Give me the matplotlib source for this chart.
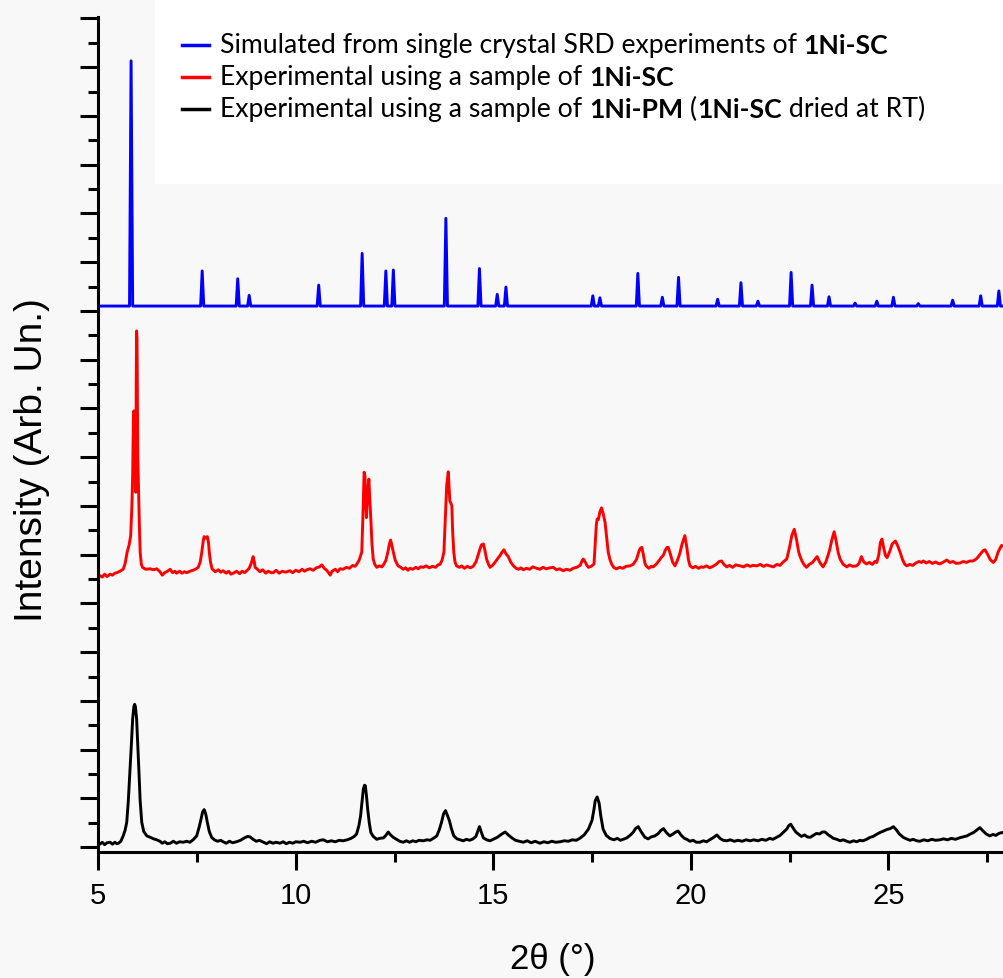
import matplotlib
matplotlib.use("Agg")
import matplotlib.pyplot as plt
from matplotlib.lines import Line2D
from matplotlib.patches import Rectangle
from matplotlib.ticker import MultipleLocator

# simulated pattern: baseline and sharp reflections (2theta, apex)
blue_base = 11.1
blue_pos = [5.83, 7.63, 8.53, 8.82, 10.58, 11.68, 12.28, 12.47, 13.80, 14.65,
            15.10, 15.32, 17.52, 17.70, 18.66, 19.28, 19.69, 20.68, 21.27, 21.70,
            22.54, 23.07, 23.50, 24.16, 24.71, 25.13, 25.76, 26.63, 27.34, 27.80]
blue_top = [16.13, 11.82, 11.66, 11.32, 11.53, 12.18, 11.82, 11.84, 12.90, 11.87,
            11.34, 11.49, 11.31, 11.27, 11.77, 11.28, 11.69, 11.24, 11.58, 11.20,
            11.79, 11.53, 11.29, 11.16, 11.20, 11.28, 11.15, 11.22, 11.31, 11.41]

# experimental 1Ni-SC, (2theta, intensity)
red_pts = [
    (5.00, 5.56), (5.04, 5.57), (5.10, 5.54), (5.16, 5.60), (5.22, 5.55), (5.30, 5.60),
    (5.36, 5.58), (5.42, 5.62), (5.47, 5.63), (5.55, 5.66), (5.63, 5.70), (5.68, 5.82),
    (5.73, 6.05), (5.78, 6.20), (5.82, 6.39), (5.85, 7.00), (5.87, 7.62), (5.89, 8.90),
    (5.90, 8.95), (5.92, 8.80), (5.94, 7.60), (5.95, 7.28), (5.96, 9.50), (5.97, 10.59),
    (5.98, 10.42), (5.99, 9.20), (6.00, 8.00), (6.02, 7.28), (6.04, 6.60), (6.06, 6.05),
    (6.09, 5.80), (6.12, 5.74), (6.20, 5.70), (6.31, 5.71), (6.40, 5.69), (6.48, 5.71),
    (6.56, 5.65), (6.62, 5.58), (6.68, 5.63), (6.75, 5.66), (6.82, 5.70), (6.88, 5.63),
    (6.94, 5.66), (6.98, 5.62), (7.06, 5.66), (7.12, 5.62), (7.18, 5.65), (7.24, 5.63),
    (7.32, 5.66), (7.40, 5.68), (7.48, 5.71), (7.53, 5.74), (7.58, 5.85), (7.62, 6.05),
    (7.66, 6.30), (7.68, 6.37), (7.72, 6.34), (7.76, 6.37), (7.79, 6.25), (7.81, 6.05),
    (7.84, 5.85), (7.88, 5.71), (7.96, 5.65), (8.04, 5.69), (8.10, 5.64), (8.16, 5.67),
    (8.24, 5.62), (8.30, 5.66), (8.36, 5.60), (8.42, 5.62), (8.50, 5.66), (8.58, 5.61),
    (8.64, 5.66), (8.70, 5.63), (8.76, 5.67), (8.82, 5.72), (8.88, 5.84), (8.92, 5.96),
    (8.95, 5.85), (8.97, 5.74), (9.03, 5.70), (9.09, 5.65), (9.16, 5.69), (9.24, 5.62),
    (9.30, 5.66), (9.38, 5.63), (9.43, 5.63), (9.50, 5.68), (9.58, 5.62), (9.66, 5.66),
    (9.74, 5.64), (9.85, 5.67), (9.92, 5.63), (10.00, 5.68), (10.08, 5.65), (10.16, 5.70),
    (10.22, 5.66), (10.28, 5.69), (10.36, 5.71), (10.44, 5.68), (10.52, 5.73), (10.60, 5.75),
    (10.66, 5.79), (10.72, 5.72), (10.78, 5.68), (10.84, 5.62), (10.87, 5.58), (10.92, 5.66),
    (11.00, 5.70), (11.06, 5.65), (11.12, 5.71), (11.20, 5.70), (11.28, 5.74), (11.36, 5.72),
    (11.44, 5.78), (11.50, 5.76), (11.54, 5.80), (11.60, 5.88), (11.67, 6.05), (11.70, 6.80),
    (11.73, 7.69), (11.75, 7.62), (11.77, 7.10), (11.79, 6.76), (11.82, 7.30), (11.85, 7.55),
    (11.87, 7.20), (11.90, 6.73), (11.93, 6.20), (11.96, 5.91), (12.00, 5.80), (12.05, 5.74),
    (12.12, 5.77), (12.18, 5.75), (12.22, 5.79), (12.28, 5.88), (12.33, 6.05), (12.37, 6.22),
    (12.40, 6.30), (12.43, 6.20), (12.47, 6.05), (12.52, 5.88), (12.59, 5.77), (12.66, 5.74),
    (12.72, 5.70), (12.78, 5.73), (12.84, 5.68), (12.89, 5.72), (12.96, 5.70), (13.04, 5.74),
    (13.10, 5.71), (13.16, 5.75), (13.23, 5.74), (13.30, 5.77), (13.38, 5.73), (13.46, 5.76),
    (13.54, 5.74), (13.60, 5.79), (13.65, 5.80), (13.70, 5.88), (13.75, 6.05), (13.79, 6.80),
    (13.82, 7.41), (13.86, 7.70), (13.88, 7.40), (13.90, 7.10), (13.93, 7.05), (13.95, 7.00),
    (13.97, 6.50), (14.00, 6.05), (14.03, 5.85), (14.07, 5.77), (14.14, 5.74), (14.20, 5.77),
    (14.27, 5.72), (14.34, 5.76), (14.42, 5.73), (14.49, 5.76), (14.56, 5.85), (14.62, 6.00),
    (14.66, 6.11), (14.70, 6.20), (14.75, 6.22), (14.79, 6.08), (14.83, 5.91), (14.88, 5.80),
    (14.92, 5.74), (14.98, 5.78), (15.06, 5.86), (15.12, 5.93), (15.17, 5.98), (15.22, 6.05),
    (15.27, 6.10), (15.32, 6.02), (15.38, 5.96), (15.44, 5.85), (15.51, 5.77), (15.58, 5.72),
    (15.64, 5.70), (15.70, 5.73), (15.76, 5.69), (15.84, 5.72), (15.92, 5.70), (16.00, 5.75),
    (16.10, 5.72), (16.18, 5.70), (16.26, 5.74), (16.34, 5.71), (16.44, 5.73), (16.52, 5.74),
    (16.60, 5.69), (16.68, 5.71), (16.77, 5.67), (16.85, 5.70), (16.94, 5.68), (17.02, 5.72),
    (17.11, 5.74), (17.20, 5.78), (17.25, 5.88), (17.28, 5.91), (17.32, 5.86), (17.37, 5.78),
    (17.41, 5.74), (17.48, 5.76), (17.55, 5.81), (17.58, 6.20), (17.61, 6.62), (17.63, 6.73),
    (17.66, 6.72), (17.70, 6.88), (17.74, 6.96), (17.78, 6.85), (17.83, 6.66), (17.87, 6.35),
    (17.91, 6.05), (17.95, 5.91), (18.00, 5.80), (18.06, 5.73), (18.12, 5.71), (18.20, 5.74),
    (18.28, 5.72), (18.36, 5.76), (18.46, 5.77), (18.54, 5.80), (18.60, 5.87), (18.63, 5.91),
    (18.68, 6.05), (18.72, 6.13), (18.76, 6.15), (18.80, 6.00), (18.84, 5.82), (18.87, 5.77),
    (18.94, 5.72), (19.00, 5.76), (19.05, 5.75), (19.12, 5.80), (19.20, 5.88), (19.26, 5.95),
    (19.30, 5.98), (19.36, 6.10), (19.40, 6.15), (19.43, 6.15), (19.48, 6.02), (19.54, 5.85),
    (19.60, 5.77), (19.66, 5.88), (19.70, 5.97), (19.73, 6.05), (19.78, 6.22), (19.85, 6.39),
    (19.90, 6.15), (19.94, 5.90), (19.98, 5.77), (20.05, 5.73), (20.12, 5.76), (20.20, 5.72),
    (20.26, 5.75), (20.32, 5.74), (20.40, 5.77), (20.48, 5.73), (20.56, 5.76), (20.64, 5.80),
    (20.72, 5.86), (20.78, 5.87), (20.84, 5.80), (20.91, 5.75), (20.98, 5.78), (21.06, 5.74),
    (21.14, 5.79), (21.25, 5.77), (21.34, 5.75), (21.42, 5.79), (21.50, 5.76), (21.58, 5.78),
    (21.67, 5.77), (21.76, 5.80), (21.84, 5.76), (21.92, 5.79), (22.00, 5.77), (22.09, 5.75),
    (22.18, 5.80), (22.26, 5.78), (22.34, 5.85), (22.43, 5.91), (22.50, 6.15), (22.56, 6.40),
    (22.62, 6.52), (22.68, 6.30), (22.73, 6.06), (22.76, 5.98), (22.82, 5.86), (22.88, 5.78),
    (22.93, 5.74), (23.00, 5.80), (23.08, 5.84), (23.14, 5.90), (23.20, 5.96), (23.26, 5.85),
    (23.30, 5.80), (23.35, 5.75), (23.42, 5.85), (23.48, 6.00), (23.52, 6.11), (23.57, 6.30),
    (23.63, 6.47), (23.68, 6.28), (23.73, 6.05), (23.78, 5.91), (23.86, 5.80), (23.95, 5.75),
    (24.02, 5.79), (24.10, 5.76), (24.20, 5.77), (24.26, 5.82), (24.32, 5.96), (24.38, 5.85),
    (24.45, 5.81), (24.52, 5.84), (24.60, 5.80), (24.66, 5.86), (24.71, 5.84), (24.76, 6.00),
    (24.80, 6.25), (24.84, 6.32), (24.88, 6.15), (24.93, 5.98), (24.97, 5.94), (25.03, 6.05),
    (25.10, 6.22), (25.18, 6.28), (25.24, 6.18), (25.30, 6.05), (25.36, 5.90), (25.42, 5.80),
    (25.47, 5.77), (25.54, 5.80), (25.62, 5.78), (25.70, 5.83), (25.78, 5.86), (25.84, 5.84),
    (25.89, 5.87), (25.96, 5.83), (26.04, 5.86), (26.12, 5.82), (26.20, 5.85), (26.26, 5.82),
    (26.31, 5.81), (26.40, 5.85), (26.48, 5.89), (26.56, 5.84), (26.64, 5.86), (26.72, 5.82),
    (26.82, 5.83), (26.90, 5.86), (26.98, 5.84), (27.06, 5.87), (27.15, 5.87), (27.24, 5.92),
    (27.32, 6.00), (27.40, 6.08), (27.45, 6.10), (27.52, 6.00), (27.58, 5.90), (27.66, 5.84),
    (27.72, 5.90), (27.78, 6.05), (27.84, 6.15), (27.87, 6.19), (27.95, 6.15),
]

# experimental 1Ni-PM
black_pts = [
    (5.00, 0.07), (5.04, 0.06), (5.10, 0.10), (5.16, 0.05), (5.22, 0.09), (5.30, 0.10),
    (5.36, 0.06), (5.42, 0.10), (5.47, 0.07), (5.51, 0.08), (5.57, 0.12), (5.63, 0.23),
    (5.68, 0.35), (5.72, 0.51), (5.76, 0.95), (5.80, 1.53), (5.84, 2.15), (5.87, 2.63),
    (5.90, 2.88), (5.92, 2.93), (5.94, 2.88), (5.97, 2.63), (6.00, 2.10), (6.03, 1.53),
    (6.06, 0.95), (6.10, 0.51), (6.15, 0.32), (6.23, 0.23), (6.32, 0.20), (6.40, 0.17),
    (6.48, 0.15), (6.56, 0.12), (6.62, 0.08), (6.68, 0.11), (6.75, 0.07), (6.82, 0.08),
    (6.90, 0.12), (6.98, 0.08), (7.06, 0.11), (7.15, 0.10), (7.24, 0.12), (7.32, 0.10),
    (7.40, 0.15), (7.49, 0.23), (7.55, 0.40), (7.60, 0.57), (7.64, 0.72), (7.68, 0.77),
    (7.72, 0.68), (7.76, 0.51), (7.81, 0.32), (7.87, 0.20), (7.94, 0.15), (8.02, 0.12),
    (8.10, 0.14), (8.16, 0.11), (8.24, 0.08), (8.32, 0.12), (8.40, 0.09), (8.50, 0.11),
    (8.60, 0.14), (8.70, 0.19), (8.78, 0.22), (8.84, 0.21), (8.92, 0.16), (9.00, 0.12),
    (9.08, 0.14), (9.18, 0.10), (9.26, 0.07), (9.34, 0.11), (9.42, 0.08), (9.50, 0.10),
    (9.60, 0.08), (9.68, 0.11), (9.76, 0.07), (9.84, 0.10), (9.92, 0.08), (10.00, 0.11),
    (10.11, 0.10), (10.20, 0.12), (10.30, 0.09), (10.40, 0.12), (10.50, 0.10), (10.61, 0.14),
    (10.70, 0.15), (10.80, 0.11), (10.90, 0.13), (11.00, 0.11), (11.10, 0.14), (11.20, 0.13),
    (11.30, 0.15), (11.40, 0.18), (11.48, 0.22), (11.54, 0.27), (11.60, 0.45), (11.64, 0.64),
    (11.68, 0.95), (11.71, 1.19), (11.74, 1.27), (11.76, 1.26), (11.79, 1.05), (11.82, 0.78),
    (11.86, 0.50), (11.90, 0.30), (11.96, 0.22), (12.05, 0.16), (12.12, 0.18), (12.22, 0.19),
    (12.28, 0.24), (12.34, 0.31), (12.40, 0.25), (12.47, 0.20), (12.55, 0.16), (12.63, 0.12),
    (12.72, 0.10), (12.80, 0.13), (12.88, 0.10), (12.96, 0.13), (13.04, 0.11), (13.12, 0.14),
    (13.23, 0.13), (13.32, 0.15), (13.40, 0.14), (13.50, 0.19), (13.57, 0.23), (13.63, 0.35),
    (13.69, 0.51), (13.74, 0.68), (13.79, 0.75), (13.84, 0.65), (13.89, 0.54), (13.94, 0.38),
    (14.00, 0.23), (14.08, 0.17), (14.16, 0.15), (14.24, 0.13), (14.32, 0.16), (14.40, 0.14),
    (14.49, 0.17), (14.56, 0.22), (14.61, 0.33), (14.65, 0.42), (14.70, 0.30), (14.75, 0.19),
    (14.83, 0.15), (14.92, 0.13), (15.00, 0.16), (15.10, 0.20), (15.20, 0.26), (15.30, 0.31),
    (15.38, 0.25), (15.47, 0.19), (15.56, 0.14), (15.66, 0.12), (15.76, 0.10), (15.86, 0.13),
    (15.96, 0.09), (16.06, 0.12), (16.18, 0.08), (16.28, 0.11), (16.38, 0.09), (16.48, 0.12),
    (16.58, 0.10), (16.69, 0.11), (16.80, 0.13), (16.90, 0.12), (17.00, 0.15), (17.10, 0.14),
    (17.19, 0.18), (17.30, 0.25), (17.41, 0.37), (17.50, 0.55), (17.55, 0.78), (17.58, 0.95),
    (17.63, 1.03), (17.68, 0.90), (17.72, 0.65), (17.78, 0.37), (17.86, 0.24), (17.95, 0.18),
    (18.05, 0.15), (18.14, 0.18), (18.22, 0.14), (18.29, 0.16), (18.38, 0.19), (18.46, 0.24),
    (18.54, 0.30), (18.60, 0.38), (18.67, 0.42), (18.74, 0.32), (18.84, 0.20), (18.92, 0.17),
    (19.00, 0.21), (19.09, 0.23), (19.18, 0.28), (19.24, 0.34), (19.31, 0.38), (19.38, 0.30),
    (19.47, 0.23), (19.55, 0.27), (19.62, 0.31), (19.68, 0.33), (19.76, 0.24), (19.84, 0.18),
    (19.90, 0.16), (19.98, 0.12), (20.06, 0.14), (20.14, 0.10), (20.23, 0.10), (20.32, 0.13),
    (20.40, 0.11), (20.50, 0.16), (20.58, 0.20), (20.66, 0.25), (20.74, 0.18), (20.82, 0.14),
    (20.91, 0.13), (21.00, 0.15), (21.10, 0.12), (21.20, 0.14), (21.30, 0.12), (21.40, 0.15),
    (21.50, 0.13), (21.60, 0.15), (21.70, 0.13), (21.80, 0.16), (21.90, 0.14), (22.00, 0.18),
    (22.08, 0.16), (22.17, 0.20), (22.26, 0.24), (22.34, 0.30), (22.43, 0.37), (22.48, 0.44),
    (22.53, 0.47), (22.60, 0.38), (22.66, 0.31), (22.72, 0.27), (22.80, 0.22), (22.88, 0.25),
    (22.95, 0.21), (23.02, 0.20), (23.10, 0.24), (23.18, 0.28), (23.26, 0.27), (23.33, 0.31),
    (23.40, 0.31), (23.47, 0.26), (23.54, 0.22), (23.61, 0.18), (23.70, 0.16), (23.78, 0.13),
    (23.86, 0.15), (23.95, 0.12), (24.03, 0.10), (24.12, 0.13), (24.20, 0.11), (24.28, 0.14),
    (24.36, 0.13), (24.45, 0.16), (24.54, 0.20), (24.62, 0.22), (24.70, 0.26), (24.79, 0.30),
    (24.88, 0.33), (24.96, 0.36), (25.05, 0.38), (25.13, 0.42), (25.20, 0.36), (25.28, 0.27),
    (25.38, 0.20), (25.46, 0.17), (25.55, 0.14), (25.63, 0.16), (25.72, 0.13), (25.80, 0.12),
    (25.90, 0.15), (26.00, 0.13), (26.10, 0.16), (26.20, 0.14), (26.31, 0.15), (26.40, 0.17),
    (26.50, 0.15), (26.60, 0.18), (26.70, 0.16), (26.80, 0.19), (26.90, 0.21), (26.99, 0.23),
    (27.08, 0.27), (27.16, 0.30), (27.24, 0.35), (27.32, 0.40), (27.40, 0.33), (27.48, 0.27),
    (27.57, 0.23), (27.65, 0.26), (27.72, 0.24), (27.80, 0.28), (27.88, 0.30), (27.95, 0.29),
]

legend_rows = [
    ("blue", [("Simulated from single crystal SRD experiments of ", "normal"), ("1Ni-SC", "bold")]),
    ("red", [("Experimental using a sample of ", "normal"), ("1Ni-SC", "bold")]),
    ("black", [("Experimental using a sample of ", "normal"), ("1Ni-PM", "bold"),
               (" (", "normal"), ("1Ni-SC", "bold"), (" dried at RT)", "normal")]),
]

W, H = 1004, 979
fig = plt.figure(figsize=(W / 100, H / 100), dpi=100, facecolor="#f8f8f8")
fig.add_artist(Rectangle((155 / W, 1 - 185 / H), 1, 185 / H, transform=fig.transFigure,
                         facecolor="white", edgecolor="none", zorder=-5))

ax = fig.add_axes([98.3 / W, 126 / H, (W - 98.3) / W, (853 - 18) / H])
ax.set_facecolor("none")

# blue stick-like pattern
bx, by = [5.0], [blue_base]
for p, h in zip(blue_pos, blue_top):
    bx += [p - 0.04, p, p + 0.04]
    by += [blue_base, h, blue_base]
bx.append(27.95)
by.append(blue_base)

rx, ry = zip(*red_pts)
kx, ky = zip(*black_pts)
ax.plot(bx, by, color="#0000ff", lw=2.1)
ax.plot(rx, ry, color="#ff0000", lw=2.1)
ax.plot(kx, ky, color="black", lw=2.1)

ax.set_xlim(5, 27.93)
ax.set_ylim(-0.1, 17.03)
for s in ["top", "right"]:
    ax.spines[s].set_visible(False)
for s in ["left", "bottom"]:
    ax.spines[s].set_linewidth(2.2)

ax.xaxis.set_major_locator(MultipleLocator(5))
ax.xaxis.set_minor_locator(MultipleLocator(2.5))
ax.yaxis.set_major_locator(MultipleLocator(1))
ax.yaxis.set_minor_locator(MultipleLocator(0.5))
ax.tick_params(which="major", direction="out", length=13, width=2.2)
ax.tick_params(which="minor", direction="out", length=7, width=2.2)
ax.tick_params(axis="y", labelleft=False)
ax.tick_params(axis="x", labelsize=21, pad=8)
for lab in ax.get_xticklabels():
    lab.set_fontfamily("Liberation Sans")

fig.text(553 / W, 1 - 960 / H, "2θ (°)", fontsize=25, family="Liberation Sans",
         ha="center", va="center")
fig.text(32 / W, 1 - 460 / H, "Intensity (Arb. Un.)", fontsize=28, family="Liberation Sans",
         rotation=90, ha="center", va="center")

# legend drawn by hand to allow bold fragments
row_y = [46, 78, 110]
for (col, pieces), yp in zip(legend_rows, row_y):
    fy = 1 - yp / H
    fig.add_artist(Line2D([182 / W, 209 / W], [fy, fy], transform=fig.transFigure,
                          color=col, lw=2.5))
    prev = fig.text(220 / W, fy, pieces[0][0], fontsize=19.2, family="Lato",
                    weight=pieces[0][1], va="center", ha="left")
    for txt, wt in pieces[1:]:
        prev = ax.annotate(txt, xy=(1, 0), xycoords=prev, va="bottom", ha="left",
                           fontsize=19.2, family="Lato", weight=wt)

fig.savefig("out.png", dpi=100, facecolor=fig.get_facecolor())
